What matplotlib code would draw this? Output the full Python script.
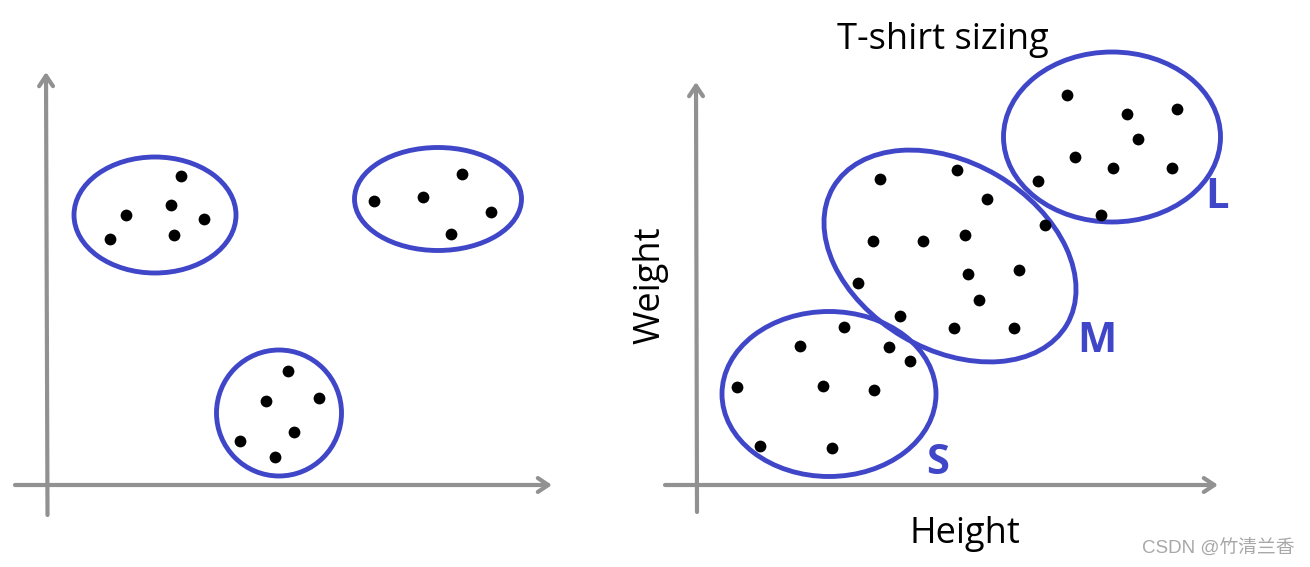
import matplotlib
matplotlib.use("Agg")
import matplotlib.pyplot as plt
from matplotlib.patches import Ellipse

# ---- data (pixel-space coordinates) ----
left_cluster_a_x = [181, 126, 171, 204, 110, 174]
left_cluster_a_y = [176, 215, 205, 219, 239, 235]
left_cluster_b_x = [374, 423, 462, 491, 451]
left_cluster_b_y = [201, 197, 174, 212, 234]
left_cluster_c_x = [288, 266, 319, 294, 240, 275]
left_cluster_c_y = [371, 401, 398, 432, 441, 457]

size_s_x = [737, 800, 844, 889, 910, 823, 874, 760, 832]
size_s_y = [387, 346, 327, 347, 361, 386, 390, 446, 448]
size_m_x = [880, 957, 987, 873, 923, 965, 1045, 968, 1019, 858, 979, 900, 954, 1014]
size_m_y = [179, 170, 199, 241, 241, 235, 225, 274, 270, 283, 300, 316, 328, 328]
size_l_x = [1067, 1127, 1177, 1138, 1075, 1113, 1172, 1038, 1101]
size_l_y = [95, 114, 109, 139, 157, 168, 168, 181, 215]

# ellipses: (cx, cy, width, height, angle)
left_ellipses = [(155, 215, 162, 116, 0), (438, 199, 167, 103, 0), (279, 413, 125, 126, 0)]
size_ellipses = [(829, 394, 214, 165, 0), (950, 256, 271, 187, 30.5), (1112, 137, 217, 170, 0)]
size_labels = ["S", "M", "L"]
size_label_pos = [(938, 463), (1097, 341), (1217, 197)]

title = "T-shirt sizing"
xlabel = "Height"
ylabel = "Weight"
watermark = "CSDN @竹清兰香"

BLUE = "#4046c8"
GRAY = "#919191"

fig = plt.figure(figsize=(13.1, 5.67), dpi=100)
ax = fig.add_axes([0, 0, 1, 1])
ax.set_xlim(0, 1310)
ax.set_ylim(567, 0)
ax.axis("off")

def axis_arrow(x0, y0, x1, y1):
    ax.annotate("", xy=(x1, y1), xytext=(x0, y0),
                arrowprops=dict(arrowstyle="->,head_length=0.75,head_width=0.5",
                                color=GRAY, lw=3, shrinkA=0, shrinkB=0))

# left panel axes
axis_arrow(47.5, 515, 46, 72)
axis_arrow(15, 485, 552, 485)
# right panel axes
axis_arrow(697, 512, 696, 82)
axis_arrow(665, 485, 1218, 485)

for (cx, cy, w, h, a) in left_ellipses + size_ellipses:
    ax.add_patch(Ellipse((cx, cy), w, h, angle=a, fill=False, edgecolor=BLUE, lw=3.5))

for xs, ys in [(left_cluster_a_x, left_cluster_a_y), (left_cluster_b_x, left_cluster_b_y),
               (left_cluster_c_x, left_cluster_c_y), (size_s_x, size_s_y),
               (size_m_x, size_m_y), (size_l_x, size_l_y)]:
    ax.scatter(xs, ys, s=72, color="black", zorder=3, linewidths=0)

for lab, (lx, ly) in zip(size_labels, size_label_pos):
    ax.text(lx, ly, lab, color=BLUE, fontsize=30, fontweight="bold",
            family="Open Sans", ha="center", va="center")

ax.text(943, 40, title, fontsize=26, family="Open Sans", ha="center", va="center")
ax.text(965, 534, xlabel, fontsize=26, family="Open Sans", ha="center", va="center")
ax.text(650, 285, ylabel, fontsize=26, family="Open Sans", ha="center", va="center",
        rotation=90)
ax.text(1295, 548, watermark, fontsize=13.5, color="#a8a8a8", ha="right", va="center",
        family=["Liberation Sans", "Noto Sans CJK SC"])

fig.savefig("out.png", dpi=100)
